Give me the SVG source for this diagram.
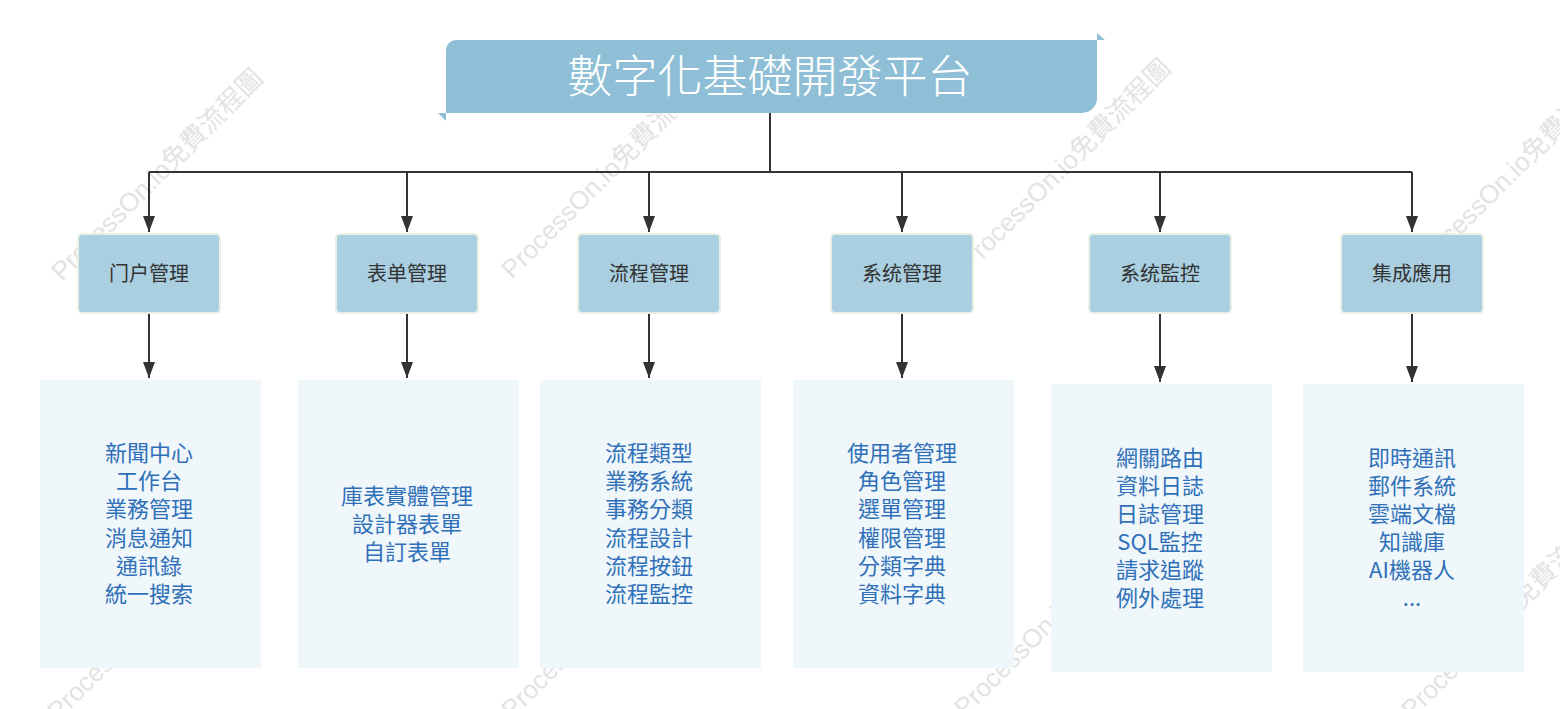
<svg xmlns="http://www.w3.org/2000/svg" width="1560" height="709" viewBox="0 0 1560 709">
<style>
.wm{font-family:"Liberation Sans","Noto Sans CJK TC",sans-serif;font-size:26px;fill:#e3e3e3}
.l2 rect{fill:#a9cfe1;stroke:#e9efe3;stroke-width:2}
.l2 text{font-family:"Noto Sans CJK TC","Noto Sans CJK SC",sans-serif;font-size:20px;fill:#333;text-anchor:middle}
.l3 rect{fill:#eff7fb}
.l3 text{font-family:"Noto Sans CJK TC","Noto Sans CJK SC",sans-serif;font-size:22px;fill:#2f70b8;text-anchor:middle}
.conn{stroke:#333;stroke-width:2;fill:none}
.arr{marker-end:url(#ah)}
</style>
<defs>
<marker id="ah" viewBox="0 0 16 12" refX="16" refY="6" markerWidth="16" markerHeight="12" markerUnits="userSpaceOnUse" orient="auto">
<path d="M0,0 L16,6 L0,12 Z" fill="#333"/>
</marker>
</defs>
<rect width="1560" height="709" fill="#fff"/>
<g id="watermarks">
<text class="wm" transform="translate(62,282) rotate(-45)">ProcessOn.io免費流程圖</text>
<text class="wm" transform="translate(512,280) rotate(-45)">ProcessOn.io免費流程圖</text>
<text class="wm" transform="translate(970,272) rotate(-45)">ProcessOn.io免費流程圖</text>
<text class="wm" transform="translate(1422,274) rotate(-45)">ProcessOn.io免費流程圖</text>
<text class="wm" transform="translate(58,722) rotate(-45)">ProcessOn.io免費流程圖</text>
<text class="wm" transform="translate(512,720) rotate(-45)">ProcessOn.io免費流程圖</text>
<text class="wm" transform="translate(965,718) rotate(-45)">ProcessOn.io免費流程圖</text>
<text class="wm" transform="translate(1412,720) rotate(-45)">ProcessOn.io免費流程圖</text>
</g>
<g id="connectors">
<path class="conn" d="M770,113 V172"/>
<path class="conn" d="M149,172 H1412"/>
<path class="conn arr" d="M149,172 V232"/>
<path class="conn arr" d="M407,172 V232"/>
<path class="conn arr" d="M649,172 V232"/>
<path class="conn arr" d="M902,172 V232"/>
<path class="conn arr" d="M1160,172 V232"/>
<path class="conn arr" d="M1412,172 V232"/>
<path class="conn arr" d="M149,314 V378"/>
<path class="conn arr" d="M407,314 V378"/>
<path class="conn arr" d="M649,314 V378"/>
<path class="conn arr" d="M902,314 V378"/>
<path class="conn arr" d="M1160,314 V382"/>
<path class="conn arr" d="M1412,314 V382"/>
</g>
<g id="title">
<path d="M456,40 H1097 V98 A15,15 0 0 1 1082,113 H446 V50 A10,10 0 0 1 456,40 Z" fill="#8fbfd6"/>
<path d="M1097,33 L1097,40 L1105,40 Z" fill="#8fbfd6"/>
<path d="M438,113 L446,113 L446,121 Z" fill="#8fbfd6"/>
<text x="770" y="93" font-family="Noto Sans CJK TC,Noto Sans CJK SC,sans-serif" font-size="45" font-weight="300" fill="#fff" text-anchor="middle">數字化基礎開發平台</text>
</g>
<g id="n1" class="l2"><rect x="78" y="234" width="142" height="79" rx="4"/><text x="149" y="281">门户管理</text></g>
<g id="n2" class="l2"><rect x="336" y="234" width="142" height="79" rx="4"/><text x="407" y="281">表单管理</text></g>
<g id="n3" class="l2"><rect x="578" y="234" width="142" height="79" rx="4"/><text x="649" y="281">流程管理</text></g>
<g id="n4" class="l2"><rect x="831" y="234" width="142" height="79" rx="4"/><text x="902" y="281">系统管理</text></g>
<g id="n5" class="l2"><rect x="1089" y="234" width="142" height="79" rx="4"/><text x="1160" y="281">系统監控</text></g>
<g id="n6" class="l2"><rect x="1341" y="234" width="142" height="79" rx="4"/><text x="1412" y="281">集成應用</text></g>
<g id="d1" class="l3"><rect x="40" y="380" width="221" height="288"/>
<text x="149" y="461">新聞中心</text><text x="149" y="489">工作台</text><text x="149" y="517">業務管理</text><text x="149" y="546">消息通知</text><text x="149" y="574">通訊錄</text><text x="149" y="602">統一搜索</text></g>
<g id="d2" class="l3"><rect x="298" y="380" width="221" height="288"/>
<text x="407" y="504">庫表實體管理</text><text x="407" y="532">設計器表單</text><text x="407" y="560">自訂表單</text></g>
<g id="d3" class="l3"><rect x="540" y="380" width="221" height="288"/>
<text x="649" y="461">流程類型</text><text x="649" y="489">業務系統</text><text x="649" y="517">事務分類</text><text x="649" y="546">流程設計</text><text x="649" y="574">流程按鈕</text><text x="649" y="602">流程監控</text></g>
<g id="d4" class="l3"><rect x="793" y="380" width="221" height="288"/>
<text x="902" y="461">使用者管理</text><text x="902" y="489">角色管理</text><text x="902" y="517">選單管理</text><text x="902" y="546">權限管理</text><text x="902" y="574">分類字典</text><text x="902" y="602">資料字典</text></g>
<g id="d5" class="l3"><rect x="1051" y="384" width="221" height="288"/>
<text x="1160" y="466">網關路由</text><text x="1160" y="494">資料日誌</text><text x="1160" y="522">日誌管理</text><text x="1160" y="550">SQL監控</text><text x="1160" y="578">請求追蹤</text><text x="1160" y="606">例外處理</text></g>
<g id="d6" class="l3"><rect x="1303" y="384" width="221" height="288"/>
<text x="1412" y="466">即時通訊</text><text x="1412" y="494">郵件系統</text><text x="1412" y="522">雲端文檔</text><text x="1412" y="550">知識庫</text><text x="1412" y="578">AI機器人</text><text x="1412" y="606">...</text></g>
</svg>
